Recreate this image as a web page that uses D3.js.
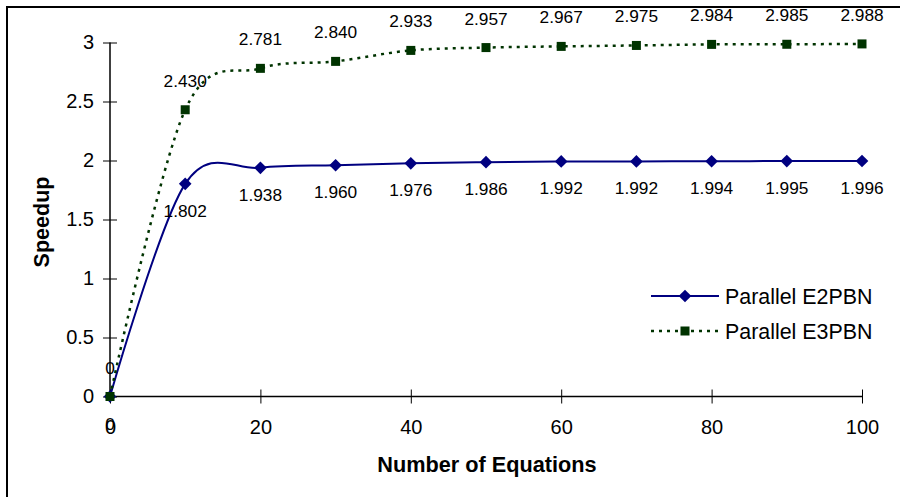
<!DOCTYPE html>
<html><head><meta charset="utf-8">
<script src="https://cdn.jsdelivr.net/npm/d3@7"></script>
<style>html,body{margin:0;padding:0;background:#fff;}svg{display:block;font-family:"Liberation Sans",Arial,sans-serif;}</style>
</head><body>
<script>
const equations = [0,10,20,30,40,50,60,70,80,90,100];
const e2pbn = [0,1.802,1.938,1.960,1.976,1.986,1.992,1.992,1.994,1.995,1.996];
const e3pbn = [0,2.430,2.781,2.840,2.933,2.957,2.967,2.975,2.984,2.985,2.988];
const e2Labels = ["0","1.802","1.938","1.960","1.976","1.986","1.992","1.992","1.994","1.995","1.996"];
const e3Labels = ["0","2.430","2.781","2.840","2.933","2.957","2.967","2.975","2.984","2.985","2.988"];
const xTicks = [0,20,40,60,80,100];
const yTicks = [0,0.5,1,1.5,2,2.5,3];
const seriesNames = ["Parallel E2PBN","Parallel E3PBN"];

const W=900,H=497;
const svg=d3.select("body").append("svg").attr("width",W).attr("height",H);
svg.append("rect").attr("x",7).attr("y",7).attr("width",W).attr("height",H).attr("fill","#fff").attr("stroke","#000").attr("stroke-width",2);

const x=d3.scaleLinear().domain([0,100]).range([110,862]);
const y=d3.scaleLinear().domain([0,3]).range([396.5,42.5]);

// axes
const gy=svg.append("g").attr("transform","translate(110,0)")
  .call(d3.axisLeft(y).tickValues(yTicks).tickSizeInner(7).tickSizeOuter(0).tickPadding(9).tickFormat(d=>String(d)));
gy.selectAll(".tick line").attr("x2",7).attr("x1",-7);
const gx=svg.append("g").attr("transform","translate(0,396.5)")
  .call(d3.axisBottom(x).tickValues(xTicks).tickSizeInner(7).tickSizeOuter(0).tickPadding(16).tickFormat(d=>String(d)));
gx.selectAll(".tick line").attr("y1",-7).attr("y2",7);
[gx,gy].forEach(g=>{
  g.select(".domain").attr("stroke","#000").attr("stroke-width",1.5);
  g.selectAll(".tick line").attr("stroke","#000").attr("stroke-width",1);
  g.selectAll("text").attr("font-size",20).attr("fill","#000").attr("font-family","Liberation Sans, Arial, sans-serif");
});
gy.select(".domain").attr("d","M0,42.5V396.5");
gx.select(".domain").attr("d","M110,0H862");

// titles
svg.append("text").attr("x",487).attr("y",472).attr("text-anchor","middle").attr("font-size",21.7).attr("font-weight","bold").text("Number of Equations");
svg.append("text").attr("transform","translate(49,222) rotate(-90)").attr("text-anchor","middle").attr("font-size",21.5).attr("font-weight","bold").text("Speedup");

const c2="#000080", c3="#003300";
const line=d3.line().x(d=>x(d[0])).y(d=>y(d[1])).curve(d3.curveCardinal.tension(0));
const d2=equations.map((v,i)=>[v,e2pbn[i]]);
const d3d=equations.map((v,i)=>[v,e3pbn[i]]);

svg.append("path").datum(d2).attr("d",line).attr("fill","none").attr("stroke",c2).attr("stroke-width",2);
svg.append("path").datum(d3d).attr("d",line).attr("fill","none").attr("stroke",c3).attr("stroke-width",2.5).attr("stroke-dasharray","3,5");

svg.selectAll(".m2").data(d2).enter().append("path")
  .attr("d",d3.symbol().type(d3.symbolSquare).size(80)()).attr("fill",c2)
  .attr("transform",d=>`translate(${x(d[0])},${y(d[1])}) rotate(45)`);
svg.selectAll(".m3").data(d3d).enter().append("rect")
  .attr("x",d=>x(d[0])-4.5).attr("y",d=>y(d[1])-4.5).attr("width",9).attr("height",9).attr("fill",c3);

// data labels
svg.selectAll(".l2").data(d2).enter().append("text")
  .attr("x",d=>x(d[0])).attr("y",d=>y(d[1])+33).attr("text-anchor","middle").attr("font-size",17.3).text((d,i)=>e2Labels[i]);
svg.selectAll(".l3").data(d3d).enter().append("text")
  .attr("x",d=>x(d[0])).attr("y",d=>y(d[1])-23).attr("text-anchor","middle").attr("font-size",17.3).text((d,i)=>e3Labels[i]);

// legend
const lg=svg.append("g");
lg.append("line").attr("x1",651).attr("x2",719).attr("y1",296).attr("y2",296).attr("stroke",c2).attr("stroke-width",2);
lg.append("path").attr("d",d3.symbol().type(d3.symbolSquare).size(80)()).attr("fill",c2).attr("transform","translate(685,296) rotate(45)");
lg.append("line").attr("x1",651).attr("x2",719).attr("y1",331).attr("y2",331).attr("stroke",c3).attr("stroke-width",2.5).attr("stroke-dasharray","3,5");
lg.append("rect").attr("x",680.5).attr("y",326.5).attr("width",9).attr("height",9).attr("fill",c3);
lg.append("text").attr("x",725).attr("y",303.5).attr("font-size",21.4).text(seriesNames[0]);
lg.append("text").attr("x",725).attr("y",338.5).attr("font-size",21.4).text(seriesNames[1]);
</script>
</body></html>
